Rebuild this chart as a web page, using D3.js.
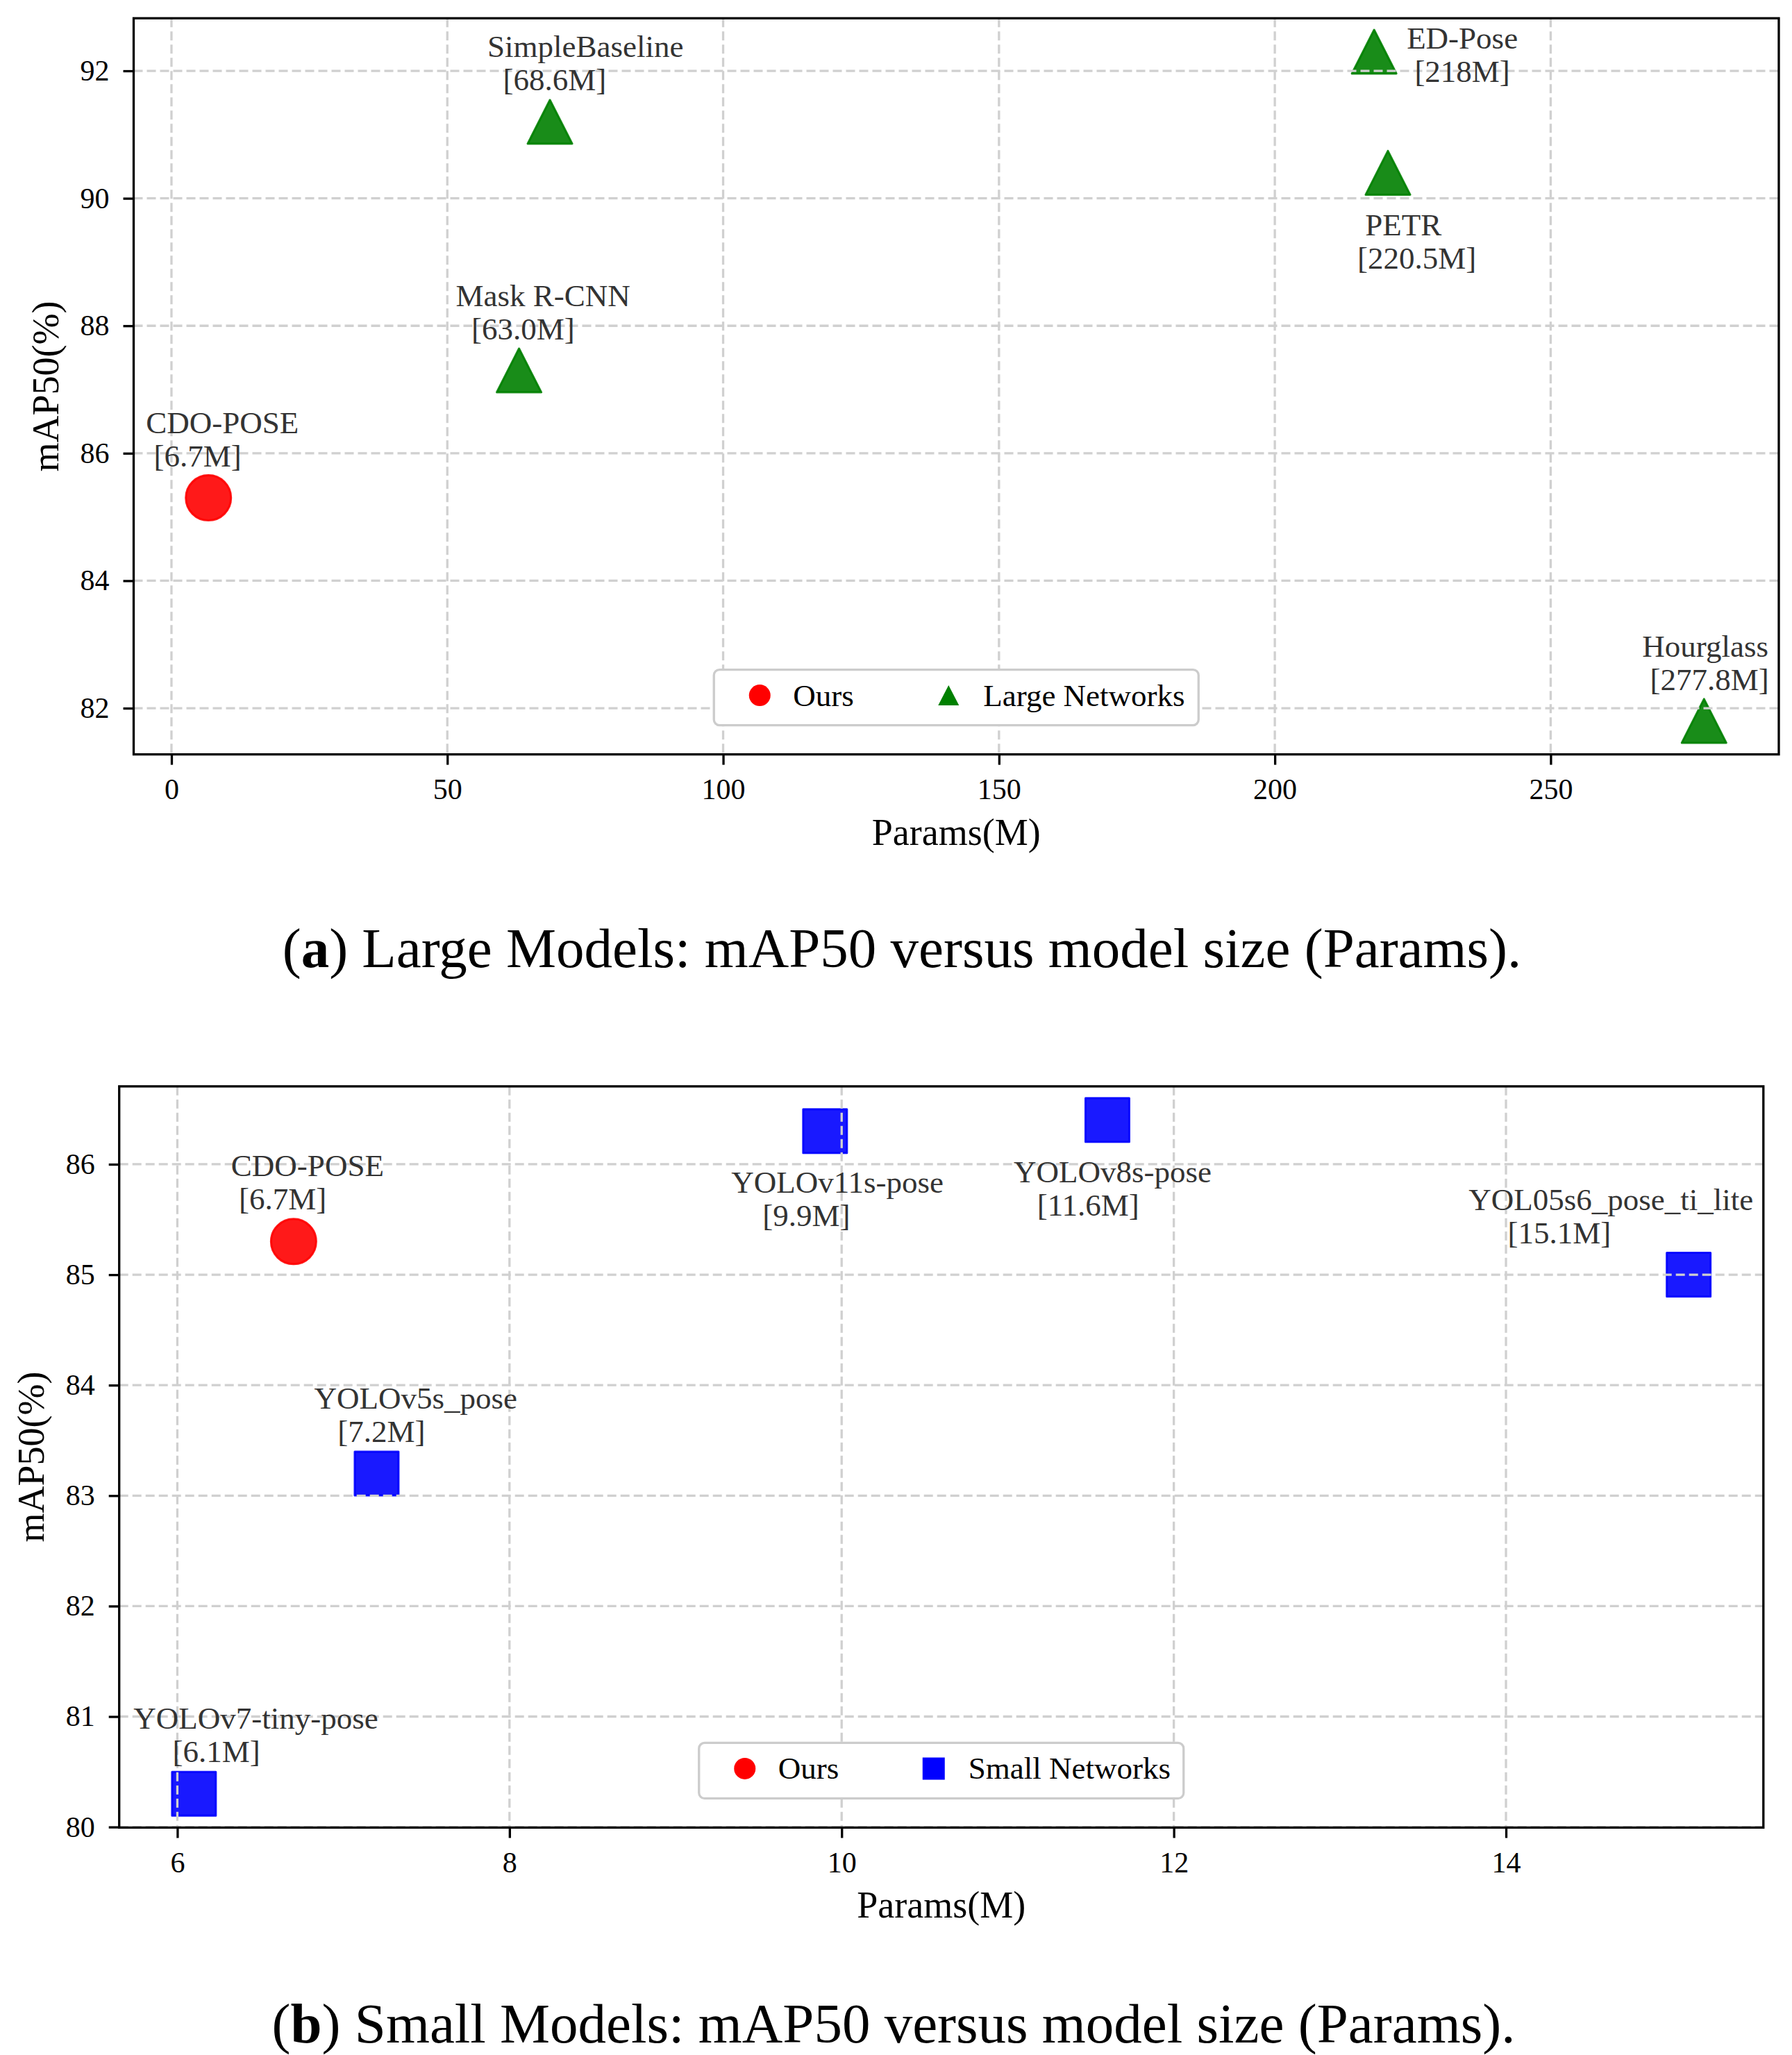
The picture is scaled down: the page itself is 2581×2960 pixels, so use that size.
<!DOCTYPE html>
<html lang="en">
<head>
<meta charset="UTF-8">
<title>mAP50 versus model size</title>
<style>
  html, body { margin: 0; padding: 0; background: #fff; }
  svg, svg text { font-family: "Liberation Serif", "Times New Roman", serif; }
  svg { display: block; }
  .lbl { white-space: pre; }
</style>
</head>
<body>
<div id="chart"></div>
<script src="https://cdnjs.cloudflare.com/ajax/libs/d3/7.8.5/d3.min.js"></script>
<script>
// (a) large models -- first entry is ours
const largeNames  = ["CDO-POSE", "SimpleBaseline", "Mask R-CNN", "ED-Pose", " PETR", "Hourglass"];
const largeSizes  = [" [6.7M]", "  [68.6M]", "  [63.0M]", " [218M]", "[220.5M]", " [277.8M]"];
const largeParams = [6.7, 68.6, 63.0, 218, 220.5, 277.8];
const largeMap50  = [85.3, 91.2, 87.3, 92.3, 90.4, 81.8];
const largeXTicks = [0, 50, 100, 150, 200, 250];
const largeYTicks = [82, 84, 86, 88, 90, 92];

// (b) small models -- first entry is ours
const smallNames  = ["CDO-POSE", "YOLOv5s_pose", "YOLOv7-tiny-pose", "YOLOv11s-pose", "YOLOv8s-pose", "YOL05s6_pose_ti_lite"];
const smallSizes  = [" [6.7M]", "   [7.2M]", "     [6.1M]", "    [9.9M]", "   [11.6M]", "     [15.1M]"];
const smallParams = [6.7, 7.2, 6.1, 9.9, 11.6, 15.1];
const smallMap50  = [85.3, 83.2, 80.3, 86.3, 86.4, 85.0];
const smallXTicks = [6, 8, 10, 12, 14];
const smallYTicks = [80, 81, 82, 83, 84, 85, 86];

// label offsets in px from the marker (left edge, first baseline)
const largeLabelDx = [-90, -90, -91, 47, -44, -89];
const largeLabelDy = [-93, -93, -92, -4, 90, -92];
const smallLabelDx = [-90, -90, -87, -135, -135, -317];
const smallLabelDy = [-94, -93, -94, 89, 90, -93];

const W = 2581, H = 2960;
const svg = d3.select("#chart").append("svg")
    .attr("width", W).attr("height", H)
    .attr("viewBox", `0 0 ${W} ${H}`);
svg.append("rect").attr("width", W).attr("height", H).attr("fill", "#fff");

// matplotlib-style marker paths
function triPath(w, h) {
    return `M0,${-h / 2}L${w / 2},${h / 2}L${-w / 2},${h / 2}Z`;
}
function sqPath(s) {
    return `M${-s / 2},${-s / 2}h${s}v${s}h${-s}Z`;
}

function styleAxis(a) {
    a.attr("font-family", null).attr("font-size", null);
    a.select(".domain").remove();
    a.selectAll("line").attr("stroke", "#000").attr("stroke-width", 3.3);
    a.selectAll("text").attr("font-size", 42).attr("fill", "#000");
}

function drawPanel(p) {
    const g = svg.append("g");
    const xPad = (d3.max(p.params) - d3.min(p.params)) * 0.05;
    const yPad = (d3.max(p.map50) - d3.min(p.map50)) * 0.05;
    const x = d3.scaleLinear()
        .domain([d3.min(p.params) - xPad, d3.max(p.params) + xPad])
        .range([p.left, p.right]);
    const y = d3.scaleLinear()
        .domain([d3.min(p.map50) - yPad, d3.max(p.map50) + yPad])
        .range([p.bottom, p.top]);

    const pts = p.names.map((n, i) => ({
        name: n, size: p.sizes[i], px: p.params[i], py: p.map50[i],
        dx: p.dx[i], dy: p.dy[i], ours: i === 0
    }));

    // markers
    g.append("g").selectAll("path")
        .data(pts)
        .join("path")
        .attr("transform", d => `translate(${x(d.px)},${y(d.py)})`)
        .attr("d", d => d.ours ? d3.symbol(d3.symbolCircle, Math.PI * 32.5 * 32.5)()
                               : (p.shape === "tri" ? triPath(64, 63) : sqPath(63)))
        .attr("fill", d => d.ours ? "#ff0000" : p.color)
        .attr("fill-opacity", 0.9)
        .attr("stroke", d => d.ours ? "#ff0000" : p.color)
        .attr("stroke-opacity", 0.9)
        .attr("stroke-width", 3)
        .attr("stroke-linejoin", "round");

    // grid (drawn over the markers, like the reference)
    const grid = g.append("g")
        .attr("stroke", "#d0d0d0")
        .attr("stroke-width", 3.3)
        .attr("stroke-dasharray", "13,6");
    grid.selectAll(".gx").data(p.xTicks).join("line")
        .attr("x1", d => x(d)).attr("x2", d => x(d))
        .attr("y1", p.top).attr("y2", p.bottom);
    grid.selectAll(".gy").data(p.yTicks).join("line")
        .attr("y1", d => y(d)).attr("y2", d => y(d))
        .attr("x1", p.left).attr("x2", p.right);

    // point labels
    const lbl = g.append("g")
        .attr("font-size", 45)
        .attr("fill", "#333");
    const t = lbl.selectAll("text").data(pts).join("text")
        .attr("class", "lbl")
        .attr("xml:space", "preserve")
        .attr("x", d => x(d.px) + d.dx)
        .attr("y", d => y(d.py) + d.dy);
    t.append("tspan").text(d => d.name);
    t.append("tspan")
        .attr("x", d => x(d.px) + d.dx)
        .attr("dy", 48)
        .text(d => d.size);

    // legend, lower center
    const lw = 698, lh = 80;
    const lx = (p.left + p.right) / 2 - lw / 2;
    const ly = p.bottom - 42 - lh;
    const leg = g.append("g").attr("transform", `translate(${lx},${ly})`);
    leg.append("rect")
        .attr("width", lw).attr("height", lh)
        .attr("rx", 8)
        .attr("fill", "#fff")
        .attr("stroke", "#cccccc")
        .attr("stroke-width", 3.3);
    leg.append("circle").attr("cx", 66).attr("cy", 37).attr("r", 15.5).attr("fill", "#ff0000");
    leg.append("path")
        .attr("transform", "translate(338,37)")
        .attr("d", p.shape === "tri" ? triPath(30, 29) : sqPath(32))
        .attr("fill", p.color);
    leg.append("text").attr("x", 114).attr("y", 52).attr("font-size", 45).text("Ours");
    leg.append("text").attr("x", 388).attr("y", 52).attr("font-size", 45).text(p.legend);

    // axes
    g.append("g")
        .attr("transform", `translate(0,${p.bottom})`)
        .call(d3.axisBottom(x).tickValues(p.xTicks).tickFormat(d3.format("d"))
            .tickSize(15).tickSizeOuter(0).tickPadding(20))
        .call(styleAxis);
    g.append("g")
        .attr("transform", `translate(${p.left},0)`)
        .call(d3.axisLeft(y).tickValues(p.yTicks).tickFormat(d3.format("d"))
            .tickSize(15).tickSizeOuter(0).tickPadding(20))
        .call(styleAxis);

    g.append("rect")
        .attr("x", p.left).attr("y", p.top)
        .attr("width", p.right - p.left).attr("height", p.bottom - p.top)
        .attr("fill", "none")
        .attr("stroke", "#000")
        .attr("stroke-width", 3.3);

    // axis titles
    g.append("text")
        .attr("x", (p.left + p.right) / 2)
        .attr("y", p.bottom + 130)
        .attr("text-anchor", "middle")
        .attr("font-size", 54)
        .text("Params(M)");
    g.append("text")
        .attr("transform", `translate(${p.yLabelX},${(p.top + p.bottom) / 2}) rotate(-90)`)
        .attr("text-anchor", "middle")
        .attr("font-size", 54)
        .text("mAP50(%)");

    // caption
    const cap = g.append("text")
        .attr("x", p.capX)
        .attr("y", p.capY)
        .attr("text-anchor", "middle")
        .attr("font-size", 81);
    cap.append("tspan").text("(");
    cap.append("tspan").attr("font-weight", "bold").text(p.capTag);
    cap.append("tspan").text(") " + p.caption);
}

drawPanel({
    names: largeNames, sizes: largeSizes, params: largeParams, map50: largeMap50,
    xTicks: largeXTicks, yTicks: largeYTicks, dx: largeLabelDx, dy: largeLabelDy,
    left: 192.5, right: 2562, top: 26.3, bottom: 1086.6,
    shape: "tri", color: "#008000", legend: "Large Networks",
    yLabelX: 84, capX: 1299, capY: 1393,
    capTag: "a", caption: "Large Models: mAP50 versus model size (Params)."
});

drawPanel({
    names: smallNames, sizes: smallSizes, params: smallParams, map50: smallMap50,
    xTicks: smallXTicks, yTicks: smallYTicks, dx: smallLabelDx, dy: smallLabelDy,
    left: 171.7, right: 2539.8, top: 1564.8, bottom: 2632.4,
    shape: "sq", color: "#0000ff", legend: "Small Networks",
    yLabelX: 63, capX: 1287, capY: 2942,
    capTag: "b", caption: "Small Models: mAP50 versus model size (Params)."
});
</script>
</body>
</html>
